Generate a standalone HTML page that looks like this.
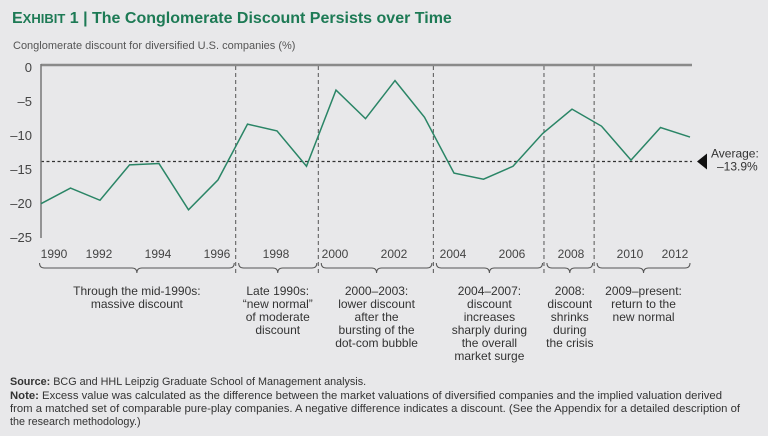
<!DOCTYPE html>
<html><head><meta charset="utf-8"><style>
body{margin:0;background:#e8e8ea;}
#wrap{position:relative;width:768px;height:436px;background:#e8e8ea;font-family:"Liberation Sans",sans-serif;overflow:hidden;}
svg text{font-family:"Liberation Sans",sans-serif;}
</style></head><body>
<div id="wrap">
<svg id="chart" width="768" height="436">
<text x="12" y="23" fill="#1d7a55" font-weight="bold" font-size="16"><tspan font-size="16">E</tspan><tspan font-size="13">XHIBIT</tspan> 1 | The Conglomerate Discount Persists over Time</text>
<text x="13" y="49" fill="#555" font-size="11">Conglomerate discount for diversified U.S. companies (%)</text>
<g id="grid"></g>
<g id="axes"></g>
<g id="series"></g>
<g id="annot"></g>
<text x="10" y="385" font-size="10.8" fill="#333"><tspan font-weight="bold">Source:</tspan> BCG and HHL Leipzig Graduate School of Management analysis.</text>
<text x="10" y="399" font-size="10.8" fill="#333" textLength="712" lengthAdjust="spacingAndGlyphs"><tspan font-weight="bold">Note:</tspan> Excess value was calculated as the difference between the market valuations of diversified companies and the implied valuation derived</text>
<text x="10" y="412" font-size="10.8" fill="#333" textLength="730" lengthAdjust="spacingAndGlyphs">from a matched set of comparable pure-play companies. A negative difference indicates a discount. (See the Appendix for a detailed description of</text>
<text x="10" y="425" font-size="10.8" fill="#333">the research methodology.)</text>
</svg>
</div>
<script>
const years=[1990,1991,1992,1993,1994,1995,1996,1997,1998,1999,2000,2001,2002,2003,2004,2005,2006,2007,2008,2009,2010,2011,2012];
const discount=[-20.1,-17.8,-19.6,-14.4,-14.2,-21.0,-16.6,-8.4,-9.4,-14.6,-3.4,-7.6,-2.0,-7.4,-15.6,-16.5,-14.6,-9.8,-6.2,-8.7,-13.7,-8.9,-10.3];
const yTicks=[0,-5,-10,-15,-20,-25];
const xTickYears=[1990,1992,1994,1996,1998,2000,2002,2004,2006,2008,2010,2012];
const averageValue=-13.9;
const averageLabel=["Average:","\u201313.9%"];
const dividerYears=[1996.6,1999.4,2003.3,2007.05,2008.75];
const periods=[
 {from:1989.95,to:1996.55,lines:["Through the mid-1990s:","massive discount"]},
 {from:1996.7,to:1999.35,lines:["Late 1990s:","\u201cnew normal\u201d","of moderate","discount"]},
 {from:1999.5,to:2003.25,lines:["2000\u20132003:","lower discount","after the","bursting of the","dot-com bubble"]},
 {from:2003.4,to:2007.0,lines:["2004\u20132007:","discount","increases","sharply during","the overall","market surge"]},
 {from:2007.15,to:2008.7,lines:["2008:","discount","shrinks","during","the crisis"]},
 {from:2008.85,to:2012.0,lines:["2009\u2013present:","return to the","new normal"]}
];
const NS="http://www.w3.org/2000/svg";
const X0=41,XW=29.5,Y0=67,YS=6.8;
function x(v){return X0+(v-1990)*XW;}
function y(v){return Y0-v*YS;}
function mk(tag,attrs,parent,txt){const e=document.createElementNS(NS,tag);for(const k in attrs)e.setAttribute(k,attrs[k]);if(txt!==undefined)e.textContent=txt;document.getElementById(parent).appendChild(e);return e;}
let e=mk('line',{x1:x(1990),x2:x(2012)+2,y1:y(0)-2,y2:y(0)-2,stroke:'#8a8a8a','stroke-width':2.5},'axes');

e=mk('line',{x1:x(1990),x2:x(1990),y1:y(0)-3,y2:y(-25)+1,stroke:'#777','stroke-width':1.5},'axes');

yTicks.forEach(t=>{const el=mk('text',{x:32,y:y(t)+5,'text-anchor':'end','font-size':13,fill:'#444'},'axes',t===0?'0':'\u2013'+Math.abs(t));
});
xTickYears.forEach(t=>{const off=t===1990?13:(t===2012?-15:-1);const el=mk('text',{x:x(t)+off,y:258,'text-anchor':'middle','font-size':12,fill:'#444'},'axes',String(t));
});
dividerYears.forEach(d=>{const el=mk('line',{x1:x(d),x2:x(d),y1:y(0)-1,y2:275,stroke:'#555','stroke-width':1,'stroke-dasharray':'4,3'},'grid');
});
e=mk('line',{x1:x(1990),x2:x(2012)+2,y1:y(averageValue),y2:y(averageValue),stroke:'#333','stroke-width':1.3,'stroke-dasharray':'3,2.5'},'grid');

const ay=y(averageValue);
e=mk('polygon',{points:`${x(2012)+7},${ay} ${x(2012)+17},${ay-8} ${x(2012)+17},${ay+8}`,fill:'#111'},'annot');

averageLabel.forEach((s,i)=>{const el=mk('text',{x:x(2012)+i*6+21,y:ay-4+i*13,'font-size':12,fill:'#333'},'annot',s);
});
const pts=years.map((yr,i)=>x(yr)+','+y(discount[i])).join(' ');
e=mk('polyline',{points:pts,fill:'none',stroke:'#2a8566','stroke-width':1.5,'stroke-linejoin':'miter'},'series');

periods.forEach(p=>{const a=x(p.from),b=x(p.to),m=(a+b)/2,t=263,h=5;
const d=`M${a},${t} Q${a},${t+h} ${a+5},${t+h} L${m-5},${t+h} Q${m},${t+h} ${m},${t+2*h} Q${m},${t+h} ${m+5},${t+h} L${b-5},${t+h} Q${b},${t+h} ${b},${t}`;
const br=mk('path',{d:d,fill:'none',stroke:'#555','stroke-width':1},'annot');

p.lines.forEach((s,i)=>{const el=mk('text',{x:m,y:295+i*13,'text-anchor':'middle','font-size':12,fill:'#333'},'annot',s);
});});
</script>
</body></html>
